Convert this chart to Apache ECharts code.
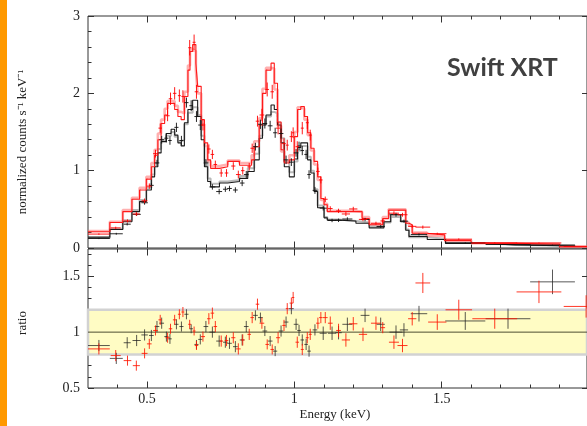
<!DOCTYPE html>
<html><head><meta charset="utf-8">
<script src="https://cdn.jsdelivr.net/npm/echarts@6/dist/echarts.min.js"></script>
<style>html,body{margin:0;padding:0;background:#fff}#c{width:587px;height:426px}</style>
</head><body><div id="c"></div>
<script>
// ---- axis / tick values ----
const XMIN = 0.3, XMAX = 1.993;
const majorX = [0.5, 1.0, 1.5];
const minorX = [0.4, 0.6, 0.7, 0.8, 0.9, 1.1, 1.2, 1.3, 1.4, 1.6, 1.7, 1.8, 1.9];
const ratioMajor = [0.5, 1.0, 1.5];
const ratioMinor = [0.6, 0.7, 0.8, 0.9, 1.1, 1.2, 1.3, 1.4, 1.6, 1.7];
const bandLow = 0.8, bandHigh = 1.2;

// ---- model step lines (bin edges, values) ----
const blackModelEdges = [0.300,0.374,0.418,0.449,0.475,0.498,0.515,0.526,0.537,0.548,0.565,0.582,0.594,0.605,0.616,0.627,0.639,0.655,0.672,0.684,0.695,0.706,0.716,0.746,0.774,0.814,0.842,0.864,0.881,0.892,0.904,0.921,0.932,0.943,0.955,0.966,0.983,1.000,1.011,1.022,1.045,1.056,1.067,1.079,1.101,1.112,1.152,1.209,1.254,1.304,1.327,1.361,1.378,1.389,1.451,1.513,1.649,1.750,1.953];
const blackModel = [0.14,0.24,0.34,0.47,0.60,0.75,0.92,1.05,1.23,1.375,1.48,1.535,1.46,1.36,1.32,1.62,1.79,1.91,1.70,1.40,1.05,0.86,0.79,0.84,0.86,0.90,0.99,1.14,1.42,1.59,1.72,1.85,1.79,1.59,1.36,1.05,0.92,1.15,1.30,1.36,1.14,0.97,0.73,0.52,0.39,0.36,0.35,0.32,0.26,0.34,0.43,0.34,0.23,0.15,0.11,0.06,0.04,0.026];
const grayModel = [0.13,0.25,0.36,0.49,0.62,0.78,0.95,1.10,1.28,1.40,1.45,1.50,1.44,1.38,1.40,1.60,1.75,1.82,1.72,1.45,1.12,0.90,0.83,0.86,0.88,0.93,1.03,1.22,1.45,1.60,1.70,1.76,1.74,1.62,1.42,1.12,0.98,1.12,1.26,1.32,1.18,1.0,0.76,0.55,0.40,0.37,0.35,0.33,0.28,0.33,0.40,0.35,0.24,0.14,0.12,0.065,0.04,0.028];
const redModelEdges = [0.300,0.374,0.418,0.449,0.475,0.498,0.515,0.526,0.537,0.548,0.560,0.570,0.594,0.605,0.616,0.627,0.639,0.646,0.655,0.666,0.672,0.684,0.695,0.706,0.716,0.746,0.774,0.814,0.855,0.864,0.881,0.892,0.904,0.921,0.932,0.943,0.955,0.966,0.983,1.000,1.011,1.022,1.034,1.045,1.056,1.067,1.079,1.090,1.101,1.112,1.200,1.230,1.254,1.300,1.320,1.378,1.389,1.400,1.450,1.510,1.600,1.750,1.900,1.993];
const redModel = [0.21,0.33,0.47,0.63,0.75,0.89,1.05,1.20,1.40,1.61,1.72,1.87,1.79,1.70,1.66,1.96,2.30,2.54,2.63,2.39,2.09,1.66,1.36,1.14,1.03,1.05,1.12,1.07,1.14,1.31,1.59,2.00,2.30,2.39,2.13,1.63,1.27,1.10,1.14,1.44,1.79,1.83,1.70,1.49,1.29,1.12,0.92,0.64,0.56,0.47,0.47,0.38,0.30,0.38,0.49,0.32,0.30,0.19,0.17,0.095,0.06,0.048,0.017];
const pinkModel = [0.22,0.34,0.49,0.65,0.78,0.92,1.10,1.27,1.48,1.66,1.80,1.90,1.84,1.76,1.74,2.02,2.36,2.58,2.55,2.30,2.00,1.60,1.32,1.12,1.06,1.08,1.13,1.10,1.20,1.38,1.68,2.06,2.33,2.32,2.05,1.58,1.25,1.12,1.20,1.50,1.82,1.80,1.66,1.46,1.26,1.08,0.88,0.62,0.57,0.48,0.47,0.40,0.31,0.40,0.50,0.33,0.29,0.20,0.16,0.10,0.062,0.05,0.018];

// ---- black data points ----
const blackE = [0.337,0.396,0.433,0.465,0.492,0.515,0.534,0.550,0.566,0.578,0.600,0.617,0.634,0.650,0.668,0.681,0.700,0.722,0.745,0.766,0.780,0.800,0.823,0.837,0.868,0.885,0.900,0.918,0.935,0.955,0.972,0.990,1.006,1.016,1.027,1.040,1.050,1.070,1.098,1.128,1.150,1.180,1.240,1.293,1.345,1.372,1.423,1.580,1.725,1.876];
const blackW = [0.037,0.022,0.012,0.014,0.011,0.008,0.008,0.008,0.007,0.006,0.007,0.007,0.007,0.006,0.007,0.007,0.008,0.010,0.010,0.008,0.008,0.008,0.008,0.008,0.008,0.008,0.008,0.008,0.007,0.008,0.008,0.008,0.008,0.006,0.006,0.006,0.006,0.008,0.012,0.014,0.011,0.017,0.015,0.014,0.022,0.014,0.028,0.068,0.076,0.076];
const blackC = [0.123,0.184,0.308,0.435,0.585,0.81,1.10,1.40,1.42,1.39,1.56,1.39,1.88,1.84,1.70,1.59,1.10,0.79,0.73,0.76,0.77,0.75,0.84,0.95,1.31,1.60,1.61,1.58,1.49,1.48,1.14,1.11,1.23,1.32,1.26,1.21,0.95,0.745,0.515,0.356,0.358,0.375,0.368,0.278,0.43,0.347,0.175,0.066,0.045,0.038];
const blackCE = [0.008,0.012,0.016,0.02,0.025,0.03,0.04,0.05,0.055,0.055,0.06,0.06,0.065,0.07,0.07,0.065,0.05,0.035,0.035,0.035,0.035,0.035,0.04,0.045,0.05,0.06,0.065,0.065,0.065,0.065,0.055,0.05,0.05,0.055,0.06,0.06,0.055,0.045,0.03,0.022,0.022,0.022,0.022,0.018,0.025,0.02,0.013,0.006,0.005,0.004];
const blackR = [0.88,0.765,0.905,0.925,0.975,0.97,1.05,1.08,0.96,0.94,1.07,1.05,1.16,1.03,0.89,0.935,1.05,1.0,0.92,0.91,0.90,0.87,0.93,1.05,1.15,1.13,1.01,0.92,0.83,1.01,1.09,1.21,1.07,1.015,0.93,0.89,0.83,1.02,0.99,0.99,0.995,1.07,1.15,1.07,1.0,1.02,1.165,1.10,1.12,1.45];
const blackRE = [0.05,0.05,0.05,0.05,0.05,0.05,0.05,0.05,0.045,0.045,0.045,0.045,0.045,0.04,0.04,0.045,0.05,0.05,0.05,0.05,0.05,0.05,0.05,0.05,0.045,0.045,0.045,0.045,0.045,0.05,0.05,0.05,0.05,0.05,0.05,0.05,0.05,0.05,0.06,0.06,0.06,0.06,0.06,0.06,0.06,0.06,0.07,0.08,0.09,0.11];

// ---- red data points ----
const redE = [0.337,0.394,0.434,0.464,0.492,0.508,0.529,0.545,0.570,0.580,0.594,0.610,0.622,0.645,0.660,0.668,0.690,0.710,0.722,0.732,0.752,0.770,0.793,0.810,0.825,0.847,0.857,0.875,0.890,0.908,0.925,0.945,0.965,0.976,0.990,0.996,1.010,1.027,1.044,1.054,1.080,1.090,1.105,1.122,1.150,1.175,1.200,1.233,1.277,1.300,1.338,1.367,1.400,1.436,1.485,1.558,1.680,1.830,1.990];
const redW = [0.037,0.017,0.013,0.012,0.010,0.008,0.008,0.006,0.007,0.006,0.006,0.005,0.005,0.005,0.005,0.006,0.007,0.006,0.006,0.006,0.006,0.006,0.007,0.008,0.006,0.006,0.006,0.006,0.008,0.006,0.006,0.007,0.006,0.005,0.006,0.004,0.006,0.005,0.005,0.005,0.006,0.006,0.008,0.008,0.008,0.014,0.014,0.014,0.017,0.008,0.017,0.017,0.014,0.025,0.031,0.045,0.076,0.076,0.076];
const redC = [0.18,0.26,0.35,0.44,0.61,0.80,1.22,1.55,1.71,1.93,2.0,1.97,1.96,2.59,2.66,2.02,1.59,1.28,1.21,1.08,0.97,0.97,1.06,0.95,1.0,1.05,1.29,1.64,1.72,2.05,2.02,1.55,1.35,1.33,1.44,1.49,1.31,1.55,1.62,1.46,0.99,0.88,0.63,0.51,0.48,0.44,0.505,0.37,0.32,0.35,0.45,0.43,0.28,0.27,0.185,0.114,0.067,0.065,0.021];
const redCE = [0.01,0.015,0.02,0.025,0.03,0.035,0.05,0.06,0.07,0.08,0.08,0.08,0.08,0.1,0.1,0.09,0.07,0.06,0.06,0.05,0.05,0.05,0.05,0.05,0.05,0.05,0.06,0.07,0.08,0.09,0.09,0.08,0.07,0.07,0.07,0.07,0.07,0.08,0.08,0.07,0.05,0.045,0.035,0.03,0.028,0.026,0.028,0.023,0.02,0.02,0.025,0.025,0.018,0.02,0.013,0.01,0.006,0.006,0.003];
const redR = [0.85,0.79,0.745,0.70,0.81,0.895,1.015,1.11,0.95,1.03,1.11,1.16,1.18,1.07,1.01,0.88,0.96,1.12,1.17,1.05,0.92,0.925,0.95,0.85,0.93,0.98,1.13,1.25,1.08,0.89,0.845,0.95,1.06,1.21,1.26,1.31,0.91,0.845,0.95,0.98,1.08,1.13,1.13,1.08,1.015,0.93,1.075,0.98,1.08,1.04,0.91,0.88,1.12,1.44,1.09,1.20,1.12,1.36,1.23];
const redRE = [0.05,0.05,0.045,0.045,0.045,0.045,0.045,0.045,0.045,0.045,0.045,0.045,0.045,0.04,0.04,0.04,0.045,0.05,0.05,0.05,0.05,0.05,0.05,0.05,0.05,0.05,0.05,0.05,0.05,0.045,0.045,0.05,0.05,0.05,0.05,0.05,0.05,0.05,0.05,0.05,0.05,0.05,0.05,0.06,0.06,0.06,0.06,0.06,0.06,0.05,0.06,0.06,0.06,0.09,0.07,0.09,0.09,0.1,0.1];

// ---- helpers ----
function steps(edges, vals) {
  const out = [];
  for (let i = 0; i < vals.length; i++) {
    out.push([edges[i], vals[i]]);
    out.push([edges[i + 1], vals[i]]);
  }
  return out;
}
function rows(E, W, V, Err) { return E.map((e, i) => [e, W[i], V[i], Err[i]]); }

function crossRender(color, opacity, lw) {
  return function (params, api) {
    const x = api.value(0), w = api.value(1), y = api.value(2), e = api.value(3);
    const cs = params.coordSys;
    const x0 = cs.x, x1 = cs.x + cs.width, y0 = cs.y, y1 = cs.y + cs.height;
    const cl = (v, a, b) => Math.max(a, Math.min(b, v));
    const L = api.coord([x - w, y]), R = api.coord([x + w, y]);
    const T = api.coord([x, y + e]), B = api.coord([x, y - e]);
    const st = { stroke: color, lineWidth: lw, opacity: opacity };
    const ch = [];
    ch.push({ type: 'line', shape: { x1: cl(L[0], x0, x1), y1: L[1], x2: cl(R[0], x0, x1), y2: R[1] }, style: st });
    if (T[0] <= x1) ch.push({ type: 'line', shape: { x1: T[0], y1: cl(T[1], y0, y1), x2: B[0], y2: cl(B[1], y0, y1) }, style: st });
    return { type: 'group', children: ch };
  };
}

const TICK = '#333';
const LBL = { fontFamily: 'Liberation Serif', fontSize: 14, color: '#222' };

function xAx(grid, pos, vals, len, label) {
  return {
    type: 'value', gridIndex: grid, position: pos, min: XMIN, max: XMAX,
    axisLine: { show: false, onZero: false }, splitLine: { show: false },
    axisTick: { show: true, inside: true, length: len, customValues: vals, lineStyle: { color: TICK, width: 1 } },
    axisLabel: label ? Object.assign({ show: true, customValues: vals, margin: 4, formatter: v => String(v) }, LBL) : { show: false }
  };
}

const xAxes = [
  xAx(0, 'bottom', minorX, 3.5, false),
  xAx(0, 'bottom', majorX, 6.5, false),
  xAx(0, 'top', minorX, 3.5, false),
  xAx(0, 'top', majorX, 6.5, false),
  xAx(1, 'bottom', minorX, 3.5, false),
  xAx(1, 'bottom', majorX, 6.5, true),
  xAx(1, 'top', minorX, 3.5, false),
  xAx(1, 'top', majorX, 6.5, false)
];

const yAxes = [
  { type: 'value', gridIndex: 0, position: 'left', min: 0, max: 3, interval: 1,
    axisLine: { show: false, onZero: false }, splitLine: { show: false },
    axisTick: { show: true, inside: true, length: 6, lineStyle: { color: TICK } },
    minorTick: { show: true, splitNumber: 5, length: 3.5, lineStyle: { color: TICK } },
    axisLabel: Object.assign({ margin: 8 }, LBL) },
  { type: 'value', gridIndex: 0, position: 'right', min: 0, max: 3, interval: 1,
    axisLine: { show: false, onZero: false }, splitLine: { show: false },
    axisTick: { show: true, inside: true, length: 5, lineStyle: { color: TICK } },
    axisLabel: { show: false } },
  { type: 'value', gridIndex: 1, position: 'left', min: 0.5, max: 1.744,
    axisLine: { show: false, onZero: false }, splitLine: { show: false },
    axisTick: { show: true, inside: true, length: 6, customValues: ratioMajor, lineStyle: { color: TICK } },
    axisLabel: Object.assign({ margin: 8, customValues: ratioMajor, formatter: v => String(v) }, LBL) },
  { type: 'value', gridIndex: 1, position: 'left', min: 0.5, max: 1.744,
    axisLine: { show: false, onZero: false }, splitLine: { show: false },
    axisTick: { show: true, inside: true, length: 3.5, customValues: ratioMinor, lineStyle: { color: TICK } },
    axisLabel: { show: false } },
  { type: 'value', gridIndex: 1, position: 'right', min: 0.5, max: 1.744,
    axisLine: { show: false, onZero: false }, splitLine: { show: false },
    axisTick: { show: true, inside: true, length: 5, customValues: ratioMajor, lineStyle: { color: TICK } },
    axisLabel: { show: false } }
];

function stepSeries(edges, vals, color, width, opacity, z) {
  return { type: 'line', xAxisIndex: 0, yAxisIndex: 0, data: steps(edges, vals), symbol: 'none', silent: true,
    z: z, lineStyle: { color: color, width: width, opacity: opacity } };
}

const series = [
  stepSeries(blackModelEdges, grayModel, '#8a8a8a', 2, 0.6, 2),
  stepSeries(redModelEdges, pinkModel, '#ff7070', 2.6, 0.55, 2),
  stepSeries(blackModelEdges, blackModel, '#1a1a1a', 1.1, 1, 3),
  stepSeries(redModelEdges, redModel, '#ff1a1a', 1.1, 1, 3),
  { type: 'custom', xAxisIndex: 0, yAxisIndex: 0, z: 4, renderItem: crossRender('#111', 0.9, 1),
    data: rows(blackE, blackW, blackC, blackCE), encode: { x: 0, y: 2 }, silent: true },
  { type: 'custom', xAxisIndex: 0, yAxisIndex: 0, z: 4, renderItem: crossRender('#ff0000', 0.9, 1),
    data: rows(redE, redW, redC, redCE), encode: { x: 0, y: 2 }, silent: true },
  // ratio panel: band + unity line
  { type: 'line', xAxisIndex: 4, yAxisIndex: 2, data: [[XMIN, 1], [XMAX, 1]], symbol: 'none', silent: true, z: 2,
    lineStyle: { color: '#4d4d30', width: 1 },
    markArea: { silent: true, itemStyle: { color: '#fffcc4', borderColor: '#d2d2d2', borderWidth: 2.5 },
      data: [[{ xAxis: XMIN, yAxis: bandLow }, { xAxis: XMAX, yAxis: bandHigh }]] } },
  { type: 'custom', xAxisIndex: 4, yAxisIndex: 2, z: 4, renderItem: crossRender('#222', 0.75, 1),
    data: rows(blackE, blackW, blackR, blackRE), encode: { x: 0, y: 2 }, silent: true },
  { type: 'custom', xAxisIndex: 4, yAxisIndex: 2, z: 4, renderItem: crossRender('#ff1500', 0.85, 1),
    data: rows(redE, redW, redR, redRE), encode: { x: 0, y: 2 }, silent: true }
];

const chart = echarts.init(document.getElementById('c'), null, { renderer: 'canvas' });
chart.setOption({
  animation: false,
  backgroundColor: '#ffffff',
  grid: [
    { left: 88, top: 16, width: 500, height: 232, show: true, borderColor: '#333', borderWidth: 1, backgroundColor: 'rgba(0,0,0,0)' },
    { left: 88, top: 249, width: 500, height: 139, show: true, borderColor: '#333', borderWidth: 1, backgroundColor: 'rgba(0,0,0,0)' }
  ],
  xAxis: xAxes,
  yAxis: yAxes,
  series: series,
  graphic: [
    { type: 'rect', shape: { x: 0, y: 0, width: 7, height: 426 }, style: { fill: '#ff9900' }, z: 100 },
    { type: 'text', x: 23, y: 142, rotation: Math.PI / 2, z: 100,
      style: { text: 'normalized counts s\u207B\u00B9 keV\u207B\u00B9', fontFamily: 'Liberation Serif', fontSize: 13, fill: '#222',
        align: 'center', verticalAlign: 'middle', textAlign: 'center', textVerticalAlign: 'middle' } },
    { type: 'text', x: 23, y: 323, rotation: Math.PI / 2, z: 100,
      style: { text: 'ratio', fontFamily: 'Liberation Serif', fontSize: 13, fill: '#222',
        align: 'center', verticalAlign: 'middle', textAlign: 'center', textVerticalAlign: 'middle' } },
    { type: 'text', x: 335, y: 415, z: 100,
      style: { text: 'Energy (keV)', fontFamily: 'Liberation Serif', fontSize: 13, fill: '#222',
        align: 'center', verticalAlign: 'middle', textAlign: 'center', textVerticalAlign: 'middle' } },
    { type: 'text', x: 447, y: 68, z: 100,
      style: { text: 'Swift XRT', fontFamily: 'Lato', fontWeight: 'bold', fontSize: 25, fill: '#404040',
        align: 'left', verticalAlign: 'middle', textAlign: 'left', textVerticalAlign: 'middle' } }
  ]
});
</script></body></html>
